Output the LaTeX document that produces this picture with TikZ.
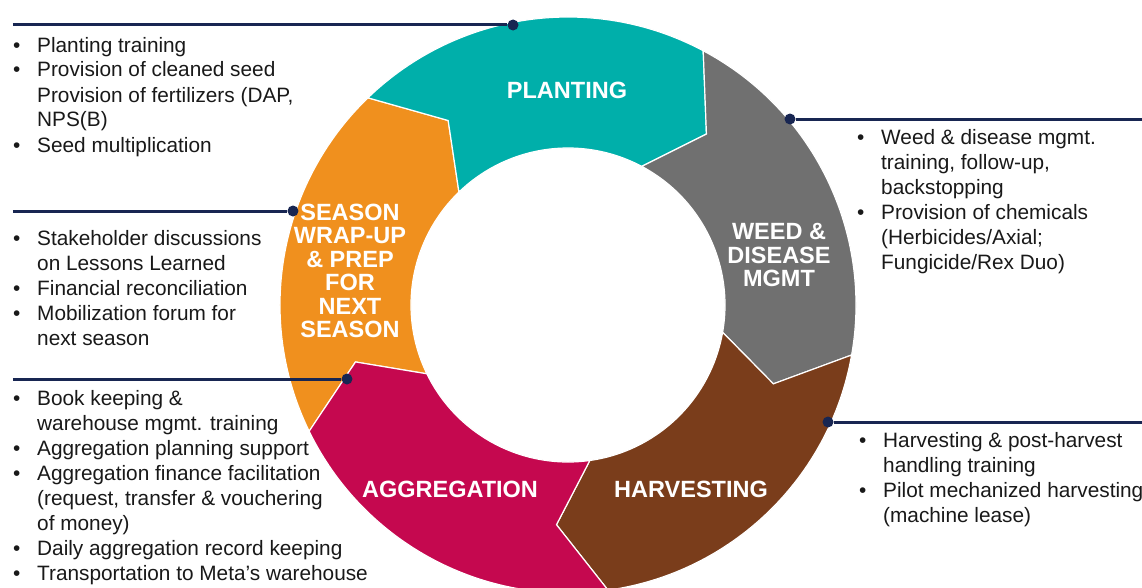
\documentclass[tikz,border=0pt]{standalone}
\usepackage{fontspec}
\setmainfont{Liberation Sans}
\usepackage{xcolor}
\usetikzlibrary{positioning}

\definecolor{ringorange}{RGB}{240,144,30}
\definecolor{ringteal}{RGB}{0,175,170}
\definecolor{ringgray}{RGB}{112,112,112}
\definecolor{ringbrown}{RGB}{122,61,27}
\definecolor{ringmagenta}{RGB}{197,8,79}
\definecolor{navy}{RGB}{24,38,82}

\begin{document}
\begin{tikzpicture}[x=1pt, y=1pt,
    seg/.style={draw=white, line width=1.2pt, line join=miter},
    tag/.style={text=white, font=\fontsize{23.5}{23.5}\selectfont\bfseries, align=center},
    notes/.style={inner sep=0pt, anchor=base west, text=black!90, font=\fontsize{20.8}{25}\selectfont},
    leader/.style={draw=navy, line width=3pt},
    knob/.style={circle, fill=navy, inner sep=0pt, minimum size=11pt}
]
    \fill[white] (-568,-282) rectangle (574,305);
    \clip (-568,-282) rectangle (574,305);

    % Ring segments, each pointing clockwise into the next one
    \foreach \a/\col in {206/ringorange, 134/ringteal, 62/ringgray, -10/ringbrown, -82/ringmagenta}
        \filldraw[seg, fill=\col] (\a:288pt) arc[start angle=\a, end angle=\a-72, radius=288pt]
            -- (\a-83:220pt) -- (\a-72:157pt) arc[start angle=\a-72, end angle=\a, radius=157pt]
            -- (\a-11:220pt) -- cycle;

    % Segment titles
    \node[tag] (pl-tag) at (-1,215) {PLANTING};
    \node[tag] (wd-tag) at (211,50) {WEED \&\\DISEASE\\MGMT};
    \node[tag] (hv-tag) at (123,-184) {HARVESTING};
    \node[tag] (ag-tag) at (-118,-184) {AGGREGATION};
    \node[tag] (sw-tag) at (-218,34) {SEASON\\WRAP-UP\\\& PREP\\FOR\\NEXT\\SEASON};

    % Leader lines
    \node[knob] (pl-dot) at (-55,280) {};
    \node[knob] (sw-dot) at (-275,94) {};
    \node[knob] (ag-dot) at (-221,-74) {};
    \node[knob] (wd-dot) at (222,186) {};
    \node[knob] (hv-dot) at (260,-117) {};
    \coordinate (pl-end) at (-555,280);
    \coordinate (sw-end) at (-555,94);
    \coordinate (ag-end) at (-555,-74);
    \coordinate (wd-end) at (574,186);
    \coordinate (hv-end) at (574,-117);
    \draw[leader] (pl-end) -- (pl-dot);
    \draw[leader] (sw-end) -- (sw-dot);
    \draw[leader] (ag-end) -- (ag-dot);
    \draw[leader] (wd-dot) -- (wd-end);
    \draw[leader] (hv-dot) -- (hv-end);

    % Activity lists
    \node[notes] (pl-notes) at (-555,253) {\begin{tabular}[t]{@{}p{24pt}@{}l@{}}
        • & Planting training\\
        • & Provision of cleaned seed\\
          & Provision of fertilizers (DAP,\\
          & NPS(B)\\
        • & Seed multiplication
    \end{tabular}};
    \node[notes] (sw-notes) at (-555,60) {\begin{tabular}[t]{@{}p{24pt}@{}l@{}}
        • & Stakeholder discussions\\
          & on Lessons Learned\\
        • & Financial reconciliation\\
        • & Mobilization forum for\\
          & next season
    \end{tabular}};
    \node[notes] (ag-notes) at (-555,-100) {\begin{tabular}[t]{@{}p{24pt}@{}l@{}}
        • & Book keeping \&\\
          & warehouse mgmt. training\\
        • & Aggregation planning support\\
        • & Aggregation finance facilitation\\
          & (request, transfer \& vouchering\\
          & of money)\\
        • & Daily aggregation record keeping\\
        • & Transportation to Meta’s warehouse
    \end{tabular}};
    \node[notes] (wd-notes) at (289,161) {\begin{tabular}[t]{@{}p{24pt}@{}l@{}}
        • & Weed \& disease mgmt.\\
          & training, follow-up,\\
          & backstopping\\
        • & Provision of chemicals\\
          & (Herbicides/Axial;\\
          & Fungicide/Rex Duo)
    \end{tabular}};
    \node[notes] (hv-notes) at (291,-142) {\begin{tabular}[t]{@{}p{24pt}@{}l@{}}
        • & Harvesting \& post-harvest\\
          & handling training\\
        • & Pilot mechanized harvesting\\
          & (machine lease)
    \end{tabular}};
\end{tikzpicture}
\end{document}
